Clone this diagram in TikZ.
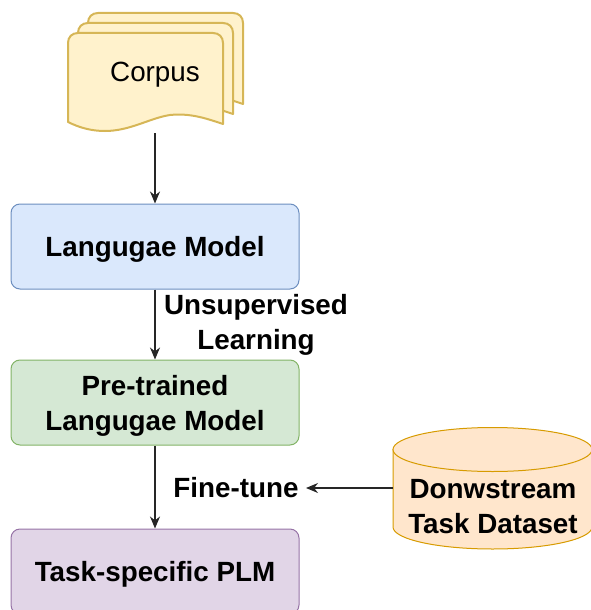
\documentclass[tikz,border=0pt]{standalone}
\usepackage{fontspec}
\setmainfont{Liberation Sans}
\usetikzlibrary{arrows.meta}
\definecolor{docline}{HTML}{D6B656}
\definecolor{docfill}{HTML}{FFF2CC}
\definecolor{bluef}{HTML}{DAE8FC}\definecolor{blued}{HTML}{6C8EBF}
\definecolor{greenf}{HTML}{D5E8D4}\definecolor{greend}{HTML}{82B366}
\definecolor{purf}{HTML}{E1D5E7}\definecolor{purd}{HTML}{9673A6}
\definecolor{orf}{HTML}{FFE6CC}\definecolor{ord}{HTML}{D79B00}
\tikzset{
 boxn/.style={rounded corners=9pt,minimum width=288pt,minimum height=85pt,align=center,font=\fontsize{27.8}{35}\selectfont\bfseries,line width=1pt,inner sep=0pt,text depth=0pt},
 arr/.style={-{Stealth[length=12pt,width=10pt]},line width=1.2pt,draw=black!85},
 lab/.style={font=\fontsize{27.8}{34.5}\selectfont\bfseries,align=center,inner sep=0pt,text depth=0pt},
 docs/.style={draw=docline,fill=docfill,line width=2pt,line join=round},
}
\begin{document}
\begin{tikzpicture}[x=1pt,y=-1pt]
\useasboundingbox (0,0) rectangle (590,610);
\foreach \d in {20,10,0}{
\begin{scope}[shift={(\d,-\d)}]
\path[docs] (68,122) -- (68,43) .. controls (68,37) and (72,33) .. (78,33) -- (213,33) .. controls (219,33) and (223,37) .. (223,43) -- (223,124) .. controls (205,118) and (190,113) .. (170,115) .. controls (150,118) and (130,131) .. (105,131) .. controls (92,131) and (80,128) .. (68,122) -- cycle;
\end{scope}}
\node[lab,font=\fontsize{27.8}{34}\selectfont] (corpus) at (155,72) {Corpus};
\node[boxn,draw=blued,fill=bluef] (lm) at (155,246.5) {Langugae Model};
\node[boxn,draw=greend,fill=greenf] (ptm) at (155,402.5) {Pre-trained\\Langugae Model};
\node[boxn,draw=purd,fill=purf] (plm) at (155,571.5) {Task-specific PLM};
\coordinate (ctop) at (155,133);
\draw[arr] (ctop) -- (lm.north);
\draw[arr] (lm.south) -- (ptm.north);
\draw[arr] (ptm.south) -- (plm.north);
\node[lab] (unsup) at (256,322) {Unsupervised\\Learning};
\node[lab] (fine) at (236,487) {Fine-tune};
\path[draw=ord,fill=orf,line width=1pt] (393,449.5) -- (393,527) arc[start angle=180,end angle=0,x radius=99.5,y radius=22] -- (592,449.5) -- cycle;
\path[draw=ord,fill=orf,line width=1pt] (492.5,449.5) ellipse[x radius=99.5,y radius=22];
\coordinate (dsw) at (393,488);
\node[lab] (dst) at (493,506.5) {Donwstream\\Task Dataset};
\coordinate (fineend) at (306,488);
\draw[arr] (dsw) -- (fineend);
\end{tikzpicture}
\end{document}
